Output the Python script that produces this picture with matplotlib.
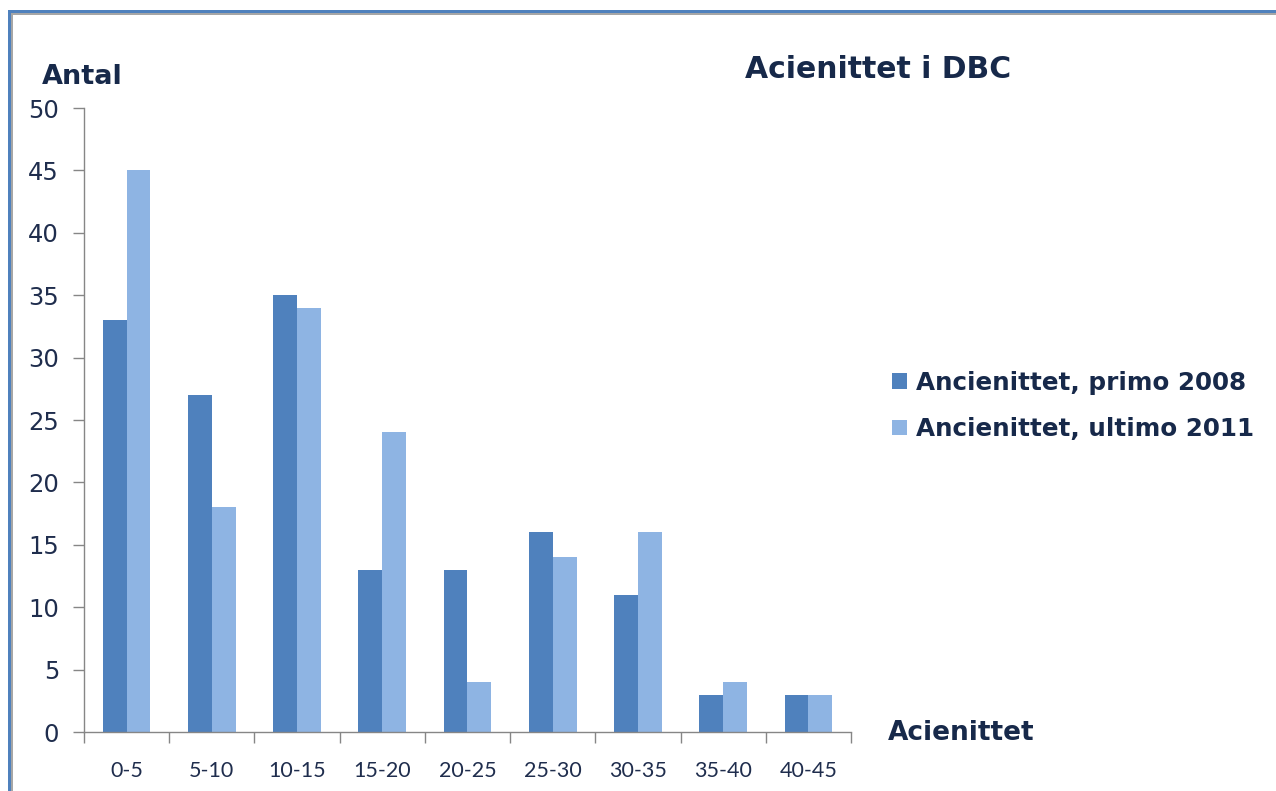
import matplotlib
matplotlib.use("Agg")
import matplotlib.pyplot as plt
from matplotlib.patches import Rectangle
import numpy as np

categories = ["0-5", "5-10", "10-15", "15-20", "20-25", "25-30", "30-35", "35-40", "40-45"]
primo_2008 = [33, 27, 35, 13, 13, 16, 11, 3, 3]
ultimo_2011 = [45, 18, 34, 24, 4, 14, 16, 4, 3]
series_labels = ["Ancienittet, primo 2008", "Ancienittet, ultimo 2011"]
y_ticks = [0, 5, 10, 15, 20, 25, 30, 35, 40, 45, 50]

DARK = "#4F81BD"
LIGHT = "#8EB4E3"
NAVY = "#17294A"
TICK_TXT = "#1F2D4D"
AXIS_GREY = "#868686"

W, H = 1276, 791
fig = plt.figure(figsize=(W / 100, H / 100), dpi=100)
fig.patch.set_facecolor("white")

# outer frame (top and left edges visible)
fig.add_artist(Rectangle((8 / W, 0), 2.5 / W, 1 - 10 / H, transform=fig.transFigure,
                         facecolor=DARK, edgecolor="none"))
fig.add_artist(Rectangle((10.5 / W, 0), 2 / W, 1 - 12.5 / H, transform=fig.transFigure,
                         facecolor="#A6A6A6", edgecolor="none"))
fig.add_artist(Rectangle((8 / W, 1 - 12.5 / H), 1 - 8 / W, 2.5 / H, transform=fig.transFigure,
                         facecolor=DARK, edgecolor="none"))
fig.add_artist(Rectangle((10.5 / W, 1 - 14.5 / H), 1 - 10.5 / W, 2 / H, transform=fig.transFigure,
                         facecolor="#A6A6A6", edgecolor="none"))

left, right = 84 / W, 851 / W
bottom, top = 1 - 732 / H, 1 - 108 / H
ax = fig.add_axes([left, bottom, right - left, top - bottom])

x = np.arange(len(categories))
bw = 0.28
ax.bar(x - bw / 2, primo_2008, width=bw, color=DARK, label=series_labels[0], zorder=2)
ax.bar(x + bw / 2, ultimo_2011, width=bw, color=LIGHT, label=series_labels[1], zorder=2)

ax.set_xlim(-0.5, len(categories) - 0.5)
ax.set_ylim(0, 50)
ax.set_yticks(y_ticks)
ax.set_yticklabels([str(v) for v in y_ticks], fontsize=17.5, color=TICK_TXT)

# category labels centred, tick marks between categories
ax.set_xticks(x)
ax.set_xticklabels(categories, fontsize=15.5, color=TICK_TXT, family="Lato")
ax.set_xticks(np.arange(-0.5, len(categories)), minor=True)
ax.tick_params(axis="x", which="major", length=0, pad=21)
ax.tick_params(axis="x", which="minor", length=8, color=AXIS_GREY, width=1)
ax.tick_params(axis="y", length=8, color=AXIS_GREY, width=1, pad=10)

for s in ["top", "right"]:
    ax.spines[s].set_visible(False)
for s in ["left", "bottom"]:
    ax.spines[s].set_color(AXIS_GREY)
    ax.spines[s].set_linewidth(1)

fig.text(42 / W, 1 - 77 / H, "Antal", fontsize=19.5, fontweight="bold", color=NAVY,
         ha="left", va="center")
fig.text(878 / W, 1 - 70 / H, "Acienittet i DBC", fontsize=21.5, fontweight="bold",
         color=NAVY, ha="center", va="center")
fig.text(888 / W, 1 - 733 / H, "Acienittet", fontsize=19, fontweight="bold",
         color=NAVY, ha="left", va="center")

fig.legend(loc="center left", bbox_to_anchor=(880 / W, 1 - 406 / H), frameon=False,
           prop={"size": 17.7, "weight": "bold"}, labelcolor=NAVY,
           handlelength=0.6, handleheight=0.6, handletextpad=0.35,
           labelspacing=0.9, borderpad=0)

fig.savefig("out.png", dpi=100, facecolor="white")
